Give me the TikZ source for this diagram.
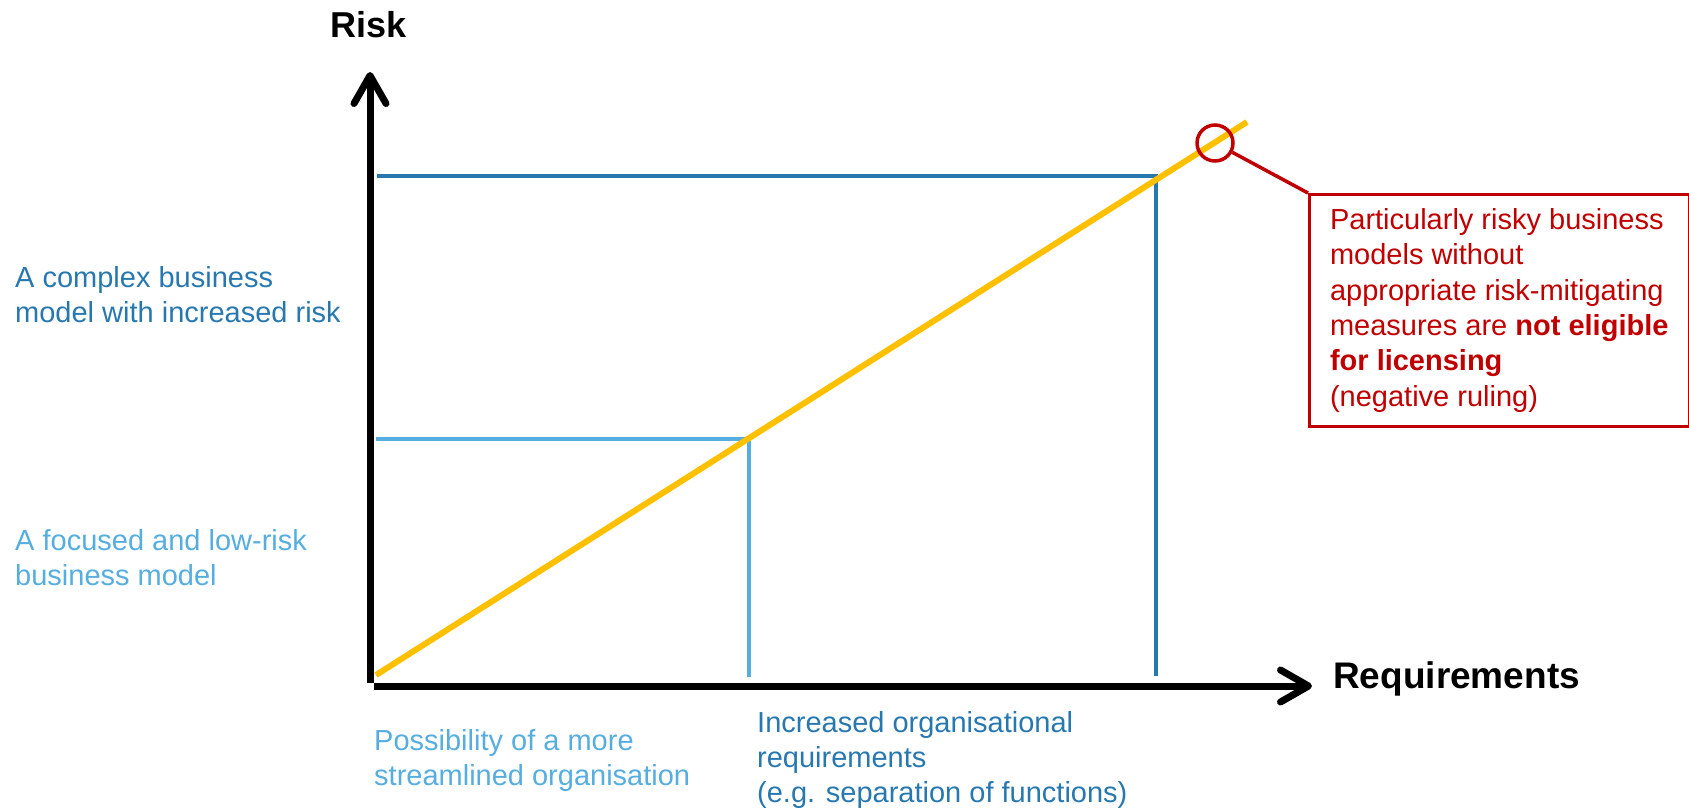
\documentclass[tikz,border=0pt]{standalone}
\usepackage{fontspec}
\setmainfont{Liberation Sans}
\usetikzlibrary{arrows.meta}
\definecolor{RDeep}{HTML}{2878B0}
\definecolor{RSky}{HTML}{56AEE0}
\definecolor{LAmber}{HTML}{FFC000}
\definecolor{NCrimson}{HTML}{C00000}
\tikzset{
    axisline/.style = {line width=7pt,
        -{Straight Barb[length=28pt,width=32pt,line cap=round,line join=round]}},
    guide/.style = {line width=4pt},
    lbl/.style = {inner sep=0, anchor=base west, align=left,
        font=\fontsize{29}{35}\selectfont},
    heading/.style = {inner sep=0, anchor=base west,
        font=\fontsize{36}{40}\selectfont\bfseries},
    note/.style = {draw=NCrimson, line width=2.5pt, text=NCrimson, align=left,
        inner xsep=20pt, font=\fontsize{29}{35.3}\selectfont}
}

\begin{document}
\begin{tikzpicture}[x=1pt,y=-1pt]
            \useasboundingbox (0,0) rectangle (1689,809);
            % axes
            \coordinate (O) at (370,683);
            \coordinate (ytop) at (370,72);
            \coordinate (xstart) at (374,686);
            \coordinate (xend) at (1312,686);
            \draw[axisline] (O) -- (ytop);
            \draw[axisline] (xstart) -- (xend);
            \node[heading] (risk) at (330,37) {Risk};
            \node[heading, font=\fontsize{37}{40}\selectfont\bfseries] (req) at (1333,688) {Requirements};
            % levels
            \coordinate (lowy) at (376,439);
            \coordinate (lowpt) at (749,439);
            \coordinate (lowx) at (749,677);
            \coordinate (highy) at (377,176);
            \coordinate (highpt) at (1156,176);
            \coordinate (highx) at (1156,676);
            \draw[guide, RSky] (lowy) -- (lowpt) -- (lowx);
            \draw[guide, RDeep] (highy) -- (highpt) -- (highx);
            % risk line
            \coordinate (rstart) at (376,675);
            \coordinate (rend) at (1247,122);
            \draw[LAmber, line width=6pt] (rstart) -- (rend);
            % labels (anchored on the last line)
            \node[lbl, text=RDeep] (complex) at (15,322) {A complex business\\model with increased risk};
            \node[lbl, text=RSky] (focused) at (15,585) {A focused and low-risk\\business model};
            \node[lbl, text=RSky] (lean) at (374,785) {Possibility of a more\\streamlined organisation};
            \node[lbl, text=RDeep] (orgreq) at (757,802) {Increased organisational\\requirements\\(e.g. separation of functions)};
            % callout
            \node[draw=NCrimson, line width=3.5pt, circle, minimum size=36pt, inner sep=0] (ring) at (1215,143) {};
            \node[note, anchor=north west, minimum width=380pt, minimum height=232pt] (verdict) at (1308,193)
                {Particularly risky business\\models without\\appropriate risk-mitigating\\measures are \textbf{not eligible}\\\textbf{for licensing}\\(negative ruling)};
            \draw[NCrimson, line width=3.5pt] (ring) -- (verdict.north west);
\end{tikzpicture}
\end{document}
